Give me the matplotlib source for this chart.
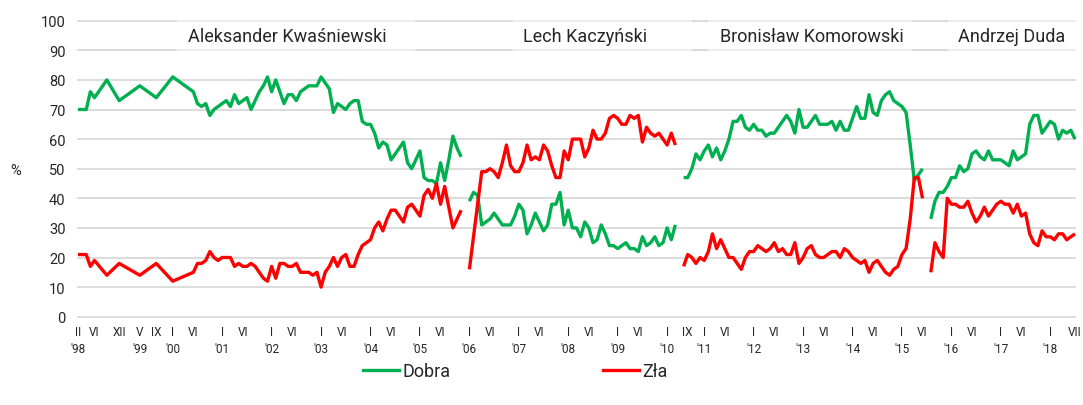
import numpy as np
import matplotlib
matplotlib.use('Agg')
import matplotlib.pyplot as plt
from matplotlib.lines import Line2D
from matplotlib.patches import Rectangle

plt.rcParams['font.family'] = ['Roboto', 'DejaVu Sans']

# x positions are survey month indices counted from II 1998
# (the axis skips V-VII 2010 between the two presidencies)

# --- Aleksander Kwaśniewski: irregular surveys 1998-2000, then monthly from VI 2000
kw_early_x = [0, 2, 3, 4, 7, 10, 15, 19, 23]
kw_early_dobra = [70, 70, 76, 74, 80, 73, 78, 74, 81]
kw_early_zla = [21, 21, 17, 19, 14, 18, 14, 18, 12]
kw_start = 28
kw_dobra = [76, 72, 71, 72, 68, 70, 71, 72, 73, 71,
            75, 72, 73, 74, 70, 73, 76, 78, 81, 76,
            80, 76, 72, 75, 75, 73, 76, 77, 78, 78,
            78, 81, 79, 77, 69, 72, 71, 70, 72, 73,
            73, 66, 65, 65, 62, 57, 59, 58, 53, 55,
            57, 59, 52, 50, 53, 56, 47, 46, 46, 45,
            52, 46, 53, 61, 57, 54]
kw_zla = [15, 18, 18, 19, 22, 20, 19, 20, 20, 20,
          17, 18, 17, 17, 18, 17, 15, 13, 12, 17,
          13, 18, 18, 17, 17, 18, 15, 15, 15, 14,
          15, 10, 15, 17, 20, 17, 20, 21, 17, 17,
          21, 24, 25, 26, 30, 32, 29, 33, 36, 36,
          34, 32, 37, 38, 36, 34, 41, 43, 40, 45,
          38, 44, 37, 30, 33, 36]

# --- Lech Kaczyński: I 2006 - III 2010
lk_start = 95
lk_dobra = [39, 42, 41, 31, 32, 33, 35, 33, 31, 31,
            31, 34, 38, 36, 28, 31, 35, 32, 29, 31,
            38, 38, 42, 31, 36, 30, 30, 27, 32, 30,
            25, 26, 31, 28, 24, 24, 23, 24, 25, 23,
            23, 22, 27, 24, 25, 27, 24, 25, 30, 26, 31]
lk_zla = [16, 27, 38, 49, 49, 50, 49, 47, 52, 58,
          51, 49, 49, 52, 58, 53, 54, 53, 58, 56,
          51, 47, 47, 56, 53, 60, 60, 60, 54, 57,
          63, 60, 60, 62, 67, 68, 67, 65, 65, 68,
          67, 68, 59, 64, 62, 61, 62, 60, 58, 62, 58]

# --- Bronisław Komorowski: VIII 2010 - VI 2015
bk_start = 147
bk_dobra = [47, 47, 50, 55, 53, 56, 58, 54, 57, 53,
            56, 60, 66, 66, 68, 64, 63, 65, 63, 63,
            61, 62, 62, 64, 66, 68, 66, 62, 70, 64,
            64, 66, 68, 65, 65, 65, 66, 63, 66, 63,
            63, 67, 71, 67, 67, 75, 69, 68, 73, 75,
            76, 73, 72, 71, 69, 58, 46, 48, 50]
bk_zla = [17, 21, 20, 18, 20, 19, 22, 28, 23, 26,
          23, 20, 20, 18, 16, 20, 22, 22, 24, 23,
          22, 23, 25, 22, 23, 21, 21, 25, 18, 20,
          23, 24, 21, 20, 20, 21, 22, 22, 20, 23,
          22, 20, 19, 18, 19, 15, 18, 19, 17, 15,
          14, 16, 17, 21, 23, 33, 47, 47, 40]

# --- Andrzej Duda: VIII 2015 - VII 2018
ad_start = 207
ad_dobra = [33, 39, 42, 42, 44, 47, 47, 51, 49, 50,
            55, 56, 54, 53, 56, 53, 53, 53, 52, 51,
            56, 53, 54, 55, 65, 68, 68, 62, 64, 66,
            65, 60, 63, 62, 63, 60]
ad_zla = [15, 25, 22, 20, 40, 38, 38, 37, 37, 39,
          35, 32, 34, 37, 34, 36, 38, 39, 38, 38,
          35, 38, 34, 35, 28, 25, 24, 29, 27, 27,
          26, 28, 28, 26, 27, 28]

# --- axis labels
month_tick_x = ([0, 4, 10, 15, 19, 23, 28]
                + [v for k in range(9) for v in (35 + 12 * k, 40 + 12 * k)]
                + [143, 148]
                + [v for k in range(7) for v in (152 + 12 * k, 157 + 12 * k)]
                + [236, 242])
month_tick_labels = (['II', 'VI', 'XII', 'V', 'IX', 'I', 'VI']
                     + ['I', 'VI'] * 9
                     + ['I', 'IX']
                     + ['I', 'VI'] * 7
                     + ['I', 'VII'])
year_tick_x = [0, 15, 23, 35, 47, 59, 71, 83, 95, 107, 119, 131, 143,
               152, 164, 176, 188, 200, 212, 224, 236]
year_tick_labels = ["'98", "'99", "'00", "'01", "'02", "'03", "'04", "'05",
                    "'06", "'07", "'08", "'09", "'10", "'11", "'12", "'13",
                    "'14", "'15", "'16", "'17", "'18"]

presidents = ['Aleksander Kwaśniewski', 'Lech Kaczyński',
              'Bronisław Komorowski', 'Andrzej Duda']
president_label_x = [50.7, 123.0, 178.2, 226.7]
president_box = [(24.0, 81.8), (105.6, 149.0), (152.9, 202.4), (211.2, 242.3)]

GREEN = '#00B050'
RED = '#FF0000'
GRID = '#d9d9d9'
TXT = '#262626'

fig = plt.figure(figsize=(10.83, 4.06), dpi=100)
ax = fig.add_axes([78 / 1083, 1 - 317.7 / 406, 997 / 1083, 296 / 406])

segments = [
    (np.concatenate([kw_early_x, np.arange(kw_start, kw_start + len(kw_dobra))]),
     kw_early_dobra + kw_dobra, kw_early_zla + kw_zla),
    (np.arange(lk_start, lk_start + len(lk_dobra)), lk_dobra, lk_zla),
    (np.arange(bk_start, bk_start + len(bk_dobra)), bk_dobra, bk_zla),
    (np.arange(ad_start, ad_start + len(ad_dobra)), ad_dobra, ad_zla),
]
for xs, dob, zla in segments:
    ax.plot(xs, dob, color=GREEN, lw=2.4, solid_joinstyle='round',
            solid_capstyle='butt', zorder=4, clip_on=False)
    ax.plot(xs, zla, color=RED, lw=2.4, solid_joinstyle='round',
            solid_capstyle='butt', zorder=4, clip_on=False)

ax.set_xlim(0, 242)
ax.set_ylim(0, 100)
ax.set_yticks(np.arange(0, 101, 10))
ax.yaxis.grid(True, color=GRID, lw=1.3)
ax.xaxis.grid(False)
for gl in ax.get_ygridlines():
    gl.set_clip_on(False)
ax.set_axisbelow(True)
for s in ax.spines.values():
    s.set_visible(False)

ax.tick_params(axis='y', length=0, pad=9, labelsize=10.5, labelcolor=TXT)
ax.xaxis.remove_overlapping_locs = False
ax.set_xticks(month_tick_x)
ax.set_xticklabels(month_tick_labels)
ax.set_xticks(year_tick_x, minor=True)
ax.set_xticklabels(year_tick_labels, minor=True)
ax.tick_params(axis='x', which='major', length=0, pad=6, labelsize=8.5, labelcolor=TXT)
ax.tick_params(axis='x', which='minor', length=0, pad=18, labelsize=8.5, labelcolor=TXT)

# president name bands
for name, cx, (x0, x1) in zip(presidents, president_label_x, president_box):
    ax.add_patch(Rectangle((x0, 90), x1 - x0, 10, facecolor='white',
                           edgecolor='none', zorder=2, clip_on=False))
    ax.hlines([90, 100], x0, x1, colors='#ededed', lw=1.3, zorder=2.5, clip_on=False)
    ax.text(cx, 95, name, ha='center', va='center', fontsize=13, color=TXT, zorder=3)

fig.text(16 / 1083, 1 - 171 / 406, '%', ha='center', va='center', fontsize=10.5, color=TXT)

handles = [Line2D([], [], color=GREEN, lw=2.4), Line2D([], [], color=RED, lw=2.4)]
fig.legend(handles, ['Dobra', 'Zła'], loc='center', bbox_to_anchor=(0.476, 1 - 372 / 406),
           ncol=2, frameon=False, fontsize=13, handlelength=2.0, handletextpad=0.2,
           columnspacing=8.4, labelcolor=TXT)

fig.savefig('out.png', dpi=100)
